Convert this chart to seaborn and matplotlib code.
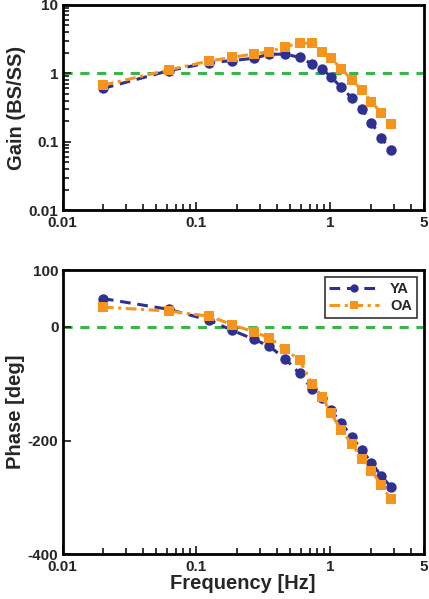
import numpy as np
import pandas as pd
import matplotlib
matplotlib.use("Agg")
import matplotlib.pyplot as plt
import seaborn as sns
from matplotlib.ticker import LogLocator, FixedLocator, NullFormatter

# Data
freq = [0.02, 0.062, 0.124, 0.185, 0.27, 0.35, 0.46, 0.59, 0.73, 0.87,
        1.01, 1.21, 1.45, 1.72, 2.03, 2.41, 2.83]
gain_ya = [0.6, 1.09, 1.43, 1.53, 1.66, 1.9, 1.9, 1.71, 1.37, 1.16,
           0.89, 0.62, 0.435, 0.3, 0.19, 0.114, 0.075]
gain_oa = [0.67, 1.12, 1.51, 1.71, 1.92, 2.07, 2.45, 2.75, 2.75, 2.03,
           1.66, 1.16, 0.8, 0.57, 0.384, 0.26, 0.18]
phase_ya = [50, 31, 12, -6, -22, -34, -56, -82, -109, -125,
            -147, -169, -194, -217, -239, -263, -281]
phase_oa = [35, 28, 19, 4, -9, -19, -39, -59, -100, -123,
            -152, -182, -206, -232, -253, -279, -303]
groups = ["YA", "OA"]

df = pd.DataFrame({
    "freq": freq * 2,
    "gain": gain_ya + gain_oa,
    "phase": phase_ya + phase_oa,
    "group": ["YA"] * len(freq) + ["OA"] * len(freq),
})

sns.set_style("ticks")
plt.rcParams["font.family"] = ["Liberation Sans", "DejaVu Sans"]
plt.rcParams["font.weight"] = "bold"

blue = "#2E3192"
orange = "#F7941D"
green = "#39B54A"
styles = {"YA": dict(color=blue, linestyle=(0, (3.5, 2.2)), marker="o"),
          "OA": dict(color=orange, linestyle=(0, (3.5, 1.5, 1, 1.5)), marker="s")}

fig = plt.figure(figsize=(4.29, 5.99), dpi=100)
ax1 = fig.add_axes([0.146, 0.649, 0.842, 0.343])
ax2 = fig.add_axes([0.146, 0.075, 0.842, 0.474])

for ax, col in [(ax1, "gain"), (ax2, "phase")]:
    for g in groups:
        sub = df[df["group"] == g]
        sns.lineplot(data=sub, x="freq", y=col, ax=ax, label=g, sort=False,
                     linewidth=2.2, markersize=7.5, markeredgewidth=0,
                     **styles[g])

# gain panel
ax1.set_xscale("log")
ax1.set_yscale("log")
ax1.set_ylim(0.01, 10)
ax1.axhline(1, color=green, linestyle=(0, (3, 2.5)), linewidth=2.2, zorder=0)
ax1.set_ylabel("Gain (BS/SS)", fontsize=14.5, fontweight="bold", labelpad=2)
ax1.set_xlabel("")
ax1.get_legend().remove()
ax1.set_yticks([0.01, 0.1, 1, 10])
ax1.set_yticklabels(["0.01", "0.1", "1", "10"])
ax1.yaxis.set_minor_locator(LogLocator(base=10, subs=np.arange(2, 10), numticks=20))
ax1.yaxis.set_minor_formatter(NullFormatter())

# phase panel
ax2.set_xscale("log")
ax2.set_ylim(-400, 100)
ax2.axhline(0, color=green, linestyle=(0, (3, 2.5)), linewidth=2.2, zorder=0)
ax2.set_ylabel("Phase [deg]", fontsize=14.5, fontweight="bold", labelpad=2)
ax2.set_xlabel("Frequency [Hz]", fontsize=14.5, fontweight="bold", labelpad=0)
ax2.yaxis.set_major_locator(FixedLocator([-400, -200, 0, 100]))
ax2.set_yticklabels(["-400", "-200", "0", "100"])
leg = ax2.legend(loc="upper right", fontsize=10.5, frameon=True, fancybox=False,
                 edgecolor="black", handlelength=3.4, borderpad=0.3,
                 labelspacing=0.25, borderaxespad=0.5, markerscale=0.8)
leg.get_frame().set_linewidth(1.2)
for t in leg.get_texts():
    t.set_fontweight("bold")

for ax in (ax1, ax2):
    ax.set_xlim(0.01, 5)
    ax.set_xticks([0.01, 0.1, 1, 5])
    ax.set_xticklabels(["0.01", "0.1", "1", "5"])
    ax.xaxis.set_minor_locator(FixedLocator(
        [m * d for d in (0.01, 0.1, 1) for m in range(2, 10) if m * d < 5]))
    ax.xaxis.set_minor_formatter(NullFormatter())
    ax.tick_params(which="both", direction="in", top=False, right=False,
                   labelsize=11, width=1.3)
    ax.tick_params(axis="x", pad=4)
    ax.tick_params(axis="y", pad=3)
    ax.tick_params(which="major", length=6)
    ax.tick_params(which="minor", length=4)
    for lbl in ax.get_xticklabels() + ax.get_yticklabels():
        lbl.set_fontweight("bold")
    for s in ax.spines.values():
        s.set_linewidth(2)
        s.set_color("black")
        s.set_visible(True)

fig.savefig("out.png", dpi=100)
